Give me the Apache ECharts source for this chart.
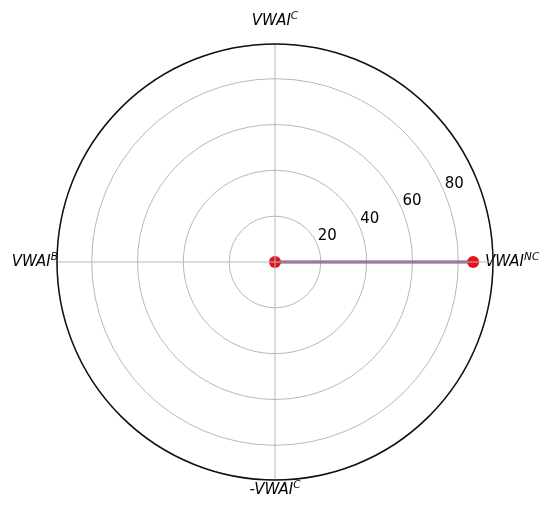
<!DOCTYPE html>
<html>
<head>
<meta charset="utf-8">
<script src="https://cdn.jsdelivr.net/npm/echarts@6/dist/echarts.min.js"></script>
<style>html,body{margin:0;padding:0;background:#fff;}#chart{width:543px;height:508px;}</style>
</head>
<body>
<div id="chart"></div>
<script>
// ---- data ----
const angleTicks = [0, 90, 180, 270];
const angleTickNames = ['VWAI', 'VWAI', 'VWAI', '-VWAI'];
const angleTickSups = ['NC', 'C', 'B', 'C'];
const radiusMax = 95.15;
const radiusInterval = 20;
const blueRadius = [0, 86.5];
const blueAngle = [0, 0];
const redRadius = [0, 86.5];
const redAngle = [0, 0];

// ---- layout / style ----
const CX = 275, CY = 262, R = 218;
const labelMargins = [-8, 15, -1, 3];
const FONT = 'DejaVu Sans';
const rich = {
  m: {fontFamily: FONT, fontStyle: 'italic', fontSize: 15, lineHeight: 15, color: '#000', verticalAlign: 'bottom'},
  s: {fontFamily: FONT, fontStyle: 'italic', fontSize: 10.5, lineHeight: 10.5, color: '#000', verticalAlign: 'bottom', padding: [0, 0, 7, 0]}
};

const polars = [];
const angleAxes = [];
const radiusAxes = [];
angleTicks.forEach((t, i) => {
  polars.push({center: [CX, CY], radius: R});
  angleAxes.push({
    polarIndex: i, type: 'value', min: 0, max: 360, interval: 90,
    startAngle: 0, clockwise: false, z: i === 0 ? 5 : 1,
    axisLine: {show: i === 0, lineStyle: {color: '#111', width: 1.5}},
    axisTick: {show: false},
    splitLine: {show: i === 0, lineStyle: {color: '#b8b8b8', width: 1}},
    axisLabel: {
      margin: labelMargins[i],
      formatter: v => v === t ? '{m|' + angleTickNames[i] + '}{s|' + angleTickSups[i] + '}' : '',
      rich: rich
    }
  });
  radiusAxes.push({
    polarIndex: i, type: 'value', min: 0, max: radiusMax, interval: radiusInterval,
    show: i === 0,
    axisLine: {show: false}, axisTick: {show: false}, axisLabel: {show: false},
    splitLine: {show: i === 0, lineStyle: {color: '#b8b8b8', width: 1}}
  });
});
// polar used only for radial tick labels (placed at 22.5 deg like matplotlib)
polars.push({center: [CX + 10, CY - 8], radius: R});
angleAxes.push({polarIndex: 4, type: 'value', min: 0, max: 360, startAngle: 22.5, clockwise: false, show: false});
radiusAxes.push({
  polarIndex: 4, type: 'value', min: 0, max: radiusMax, interval: radiusInterval,
  axisLine: {show: false}, axisTick: {show: false}, splitLine: {show: false},
  axisLabel: {margin: 0, align: 'center', verticalAlign: 'middle', showMinLabel: false, showMaxLabel: false,
    fontFamily: FONT, fontSize: 15, color: '#000'}
});

const chart = echarts.init(document.getElementById('chart'), null, {renderer: 'canvas'});
chart.setOption({
  animation: false,
  backgroundColor: '#fff',
  polar: polars,
  angleAxis: angleAxes,
  radiusAxis: radiusAxes,
  series: [
    {type: 'line', coordinateSystem: 'polar', polarIndex: 0, z: 3,
     data: blueRadius.map((r, i) => [r, blueAngle[i]]),
     symbol: 'none', lineStyle: {color: '#4a62b0', width: 3}},
    {type: 'line', coordinateSystem: 'polar', polarIndex: 0, z: 4,
     data: redRadius.map((r, i) => [r, redAngle[i]]),
     symbol: 'circle', symbolSize: 12, lineStyle: {color: '#c8202c', width: 1.5},
     itemStyle: {color: '#e5121c'}}
  ]
});
</script>
</body>
</html>
